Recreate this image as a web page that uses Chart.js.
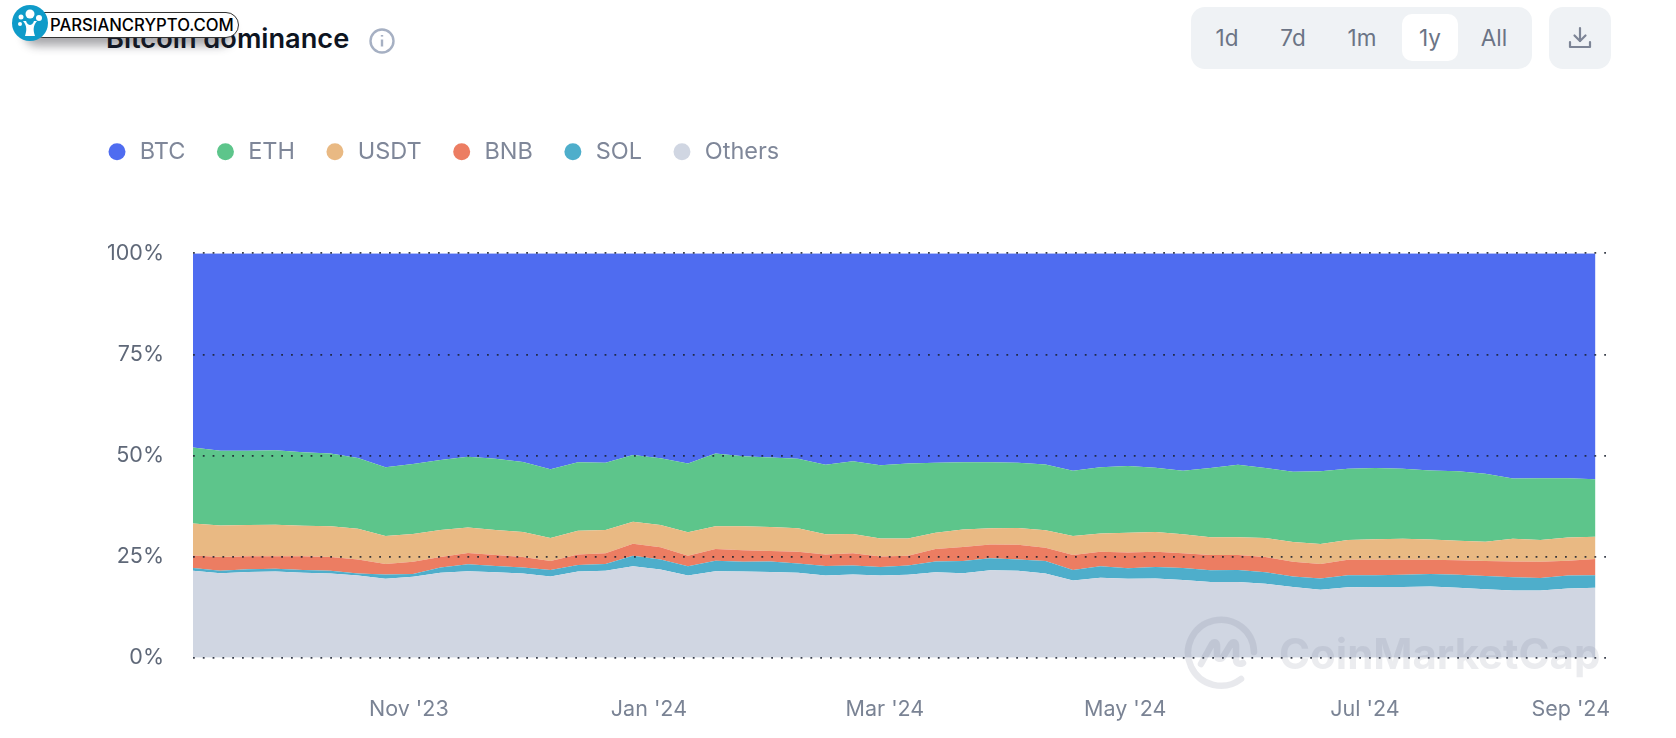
<!DOCTYPE html>
<html>
<head>
<meta charset="utf-8">
<title>Bitcoin dominance</title>
<script src="https://cdn.jsdelivr.net/npm/chart.js@4/dist/chart.umd.min.js"></script>
<style>
  html, body { margin: 0; padding: 0; background: #fff; }
  body { width: 1676px; height: 738px; position: relative; overflow: hidden; font-family: Inter, sans-serif; }
  #grafico { position: absolute; left: 77px; top: 111px; }
  .titulo { position: absolute; left: 106px; top: 22px; font-size: 27.2px; font-weight: 600; color: #0d1421; line-height: 33px; }
  .info { position: absolute; left: 368px; top: 27px; }
  .periodos { position: absolute; left: 1191px; top: 7px; width: 341px; height: 62px; background: #eff2f5; border-radius: 14px; }
  .periodos span { position: absolute; top: 7px; height: 47px; line-height: 47px; width: 56px; text-align: center; font-size: 22.5px; color: #6b7485; }
  .periodos .ativo { background: #fff; border-radius: 10px; }
  .baixar { position: absolute; left: 1549px; top: 7px; width: 62px; height: 62px; background: #eff2f5; border-radius: 14px; }
  .selo { position: absolute; left: 30px; top: 12px; width: 207px; height: 24px; background: #fff; border: 1px solid #333; border-radius: 13px; box-shadow: -6px 8px 10px rgba(40,40,50,.4); font-size: 16.7px; font-weight: 500; color: #000; line-height: 25px; white-space: nowrap; }
  .selo span { position: absolute; left: 19px; }
  .logo { position: absolute; left: 12px; top: 5px; }
  .marca { position: absolute; left: 1184px; top: 612px; pointer-events: none; }
  .marca-texto { position: absolute; left: 1279px; top: 626px; font-size: 42px; font-weight: 700; line-height: 56px; color: rgba(110,120,140,.14); white-space: nowrap; }
</style>
</head>
<body>
<canvas id="grafico" width="1599" height="627"></canvas>

<div class="titulo">Bitcoin dominance</div>
<svg class="info" width="28" height="28" viewBox="0 0 28 28" fill="none" stroke="#a6b0c3" stroke-width="2.4">
  <circle cx="14" cy="14" r="11.5"/><path d="M14 12.5v7"/><path d="M14 8v1.6"/>
</svg>

<div class="selo"><span>PARSIANCRYPTO.COM</span></div>
<svg class="logo" width="36" height="36" viewBox="0 0 36 36">
  <circle cx="18" cy="18" r="18" fill="#0f9bc9"/>
  <path d="M13 31c2-6 2-10-2-15h3c1 3 3 4 4 4s3-1 4-4h3c-4 5-4 9-2 15z" fill="#fff"/>
  <circle cx="18" cy="9" r="4.5" fill="#fff"/><circle cx="9" cy="12" r="2.5" fill="#fff"/>
  <circle cx="27" cy="13" r="3" fill="#fff"/><circle cx="8" cy="19" r="2" fill="#fff"/>
</svg>

<div class="periodos">
  <span style="left:8px">1d</span>
  <span style="left:74px">7d</span>
  <span style="left:143px">1m</span>
  <span class="ativo" style="left:211px">1y</span>
  <span style="left:275px">All</span>
</div>
<div class="baixar">
  <svg width="62" height="62" viewBox="0 0 62 62" fill="none" stroke="#7d8596" stroke-width="2.2" stroke-linecap="round" stroke-linejoin="round">
    <path d="M31 21v13"/><path d="M25.5 28.5l5.5 5.5 5.5-5.5"/><path d="M21 35v5h20v-5"/>
  </svg>
</div>

<svg class="marca" width="76" height="84" viewBox="0 0 76 84" fill="none" stroke="rgba(110,120,140,.16)" stroke-width="6.5" stroke-linecap="round" stroke-linejoin="round">
  <path d="M70 40a33 33 0 1 0-13 27"/>
  <path d="M17 52l11-20c2-3 5-2 5 2v10c0 3 4 4 6 1l8-13c2-3 5-2 5 2v14c0 3 3 5 7 3"/>
</svg>
<div class="marca-texto">CoinMarketCap</div>

<script>
const semanas = [0,1,2,3,4,5,6,7,8,9,10,11,12,13,14,15,16,17,18,19,20,21,22,23,24,25,26,27,28,29,30,31,32,33,34,35,36,37,38,39,40,41,42,43,44,45,46,47,48,49,50,51];

const others = [21.5,20.9,21.2,21.3,21.0,20.8,20.3,19.5,20.0,21.0,21.4,21.1,20.8,20.1,21.3,21.5,22.6,21.8,20.3,21.4,21.3,21.2,21.0,20.3,20.6,20.3,20.5,21.1,20.9,21.6,21.5,20.8,19.1,19.8,19.5,19.6,19.2,18.7,18.7,18.3,17.5,16.8,17.4,17.5,17.5,17.6,17.3,16.9,16.6,16.6,17.1,17.3];
const sol = [0.7,0.6,0.7,0.7,0.7,0.7,0.5,1.1,0.7,1.3,1.7,1.6,1.5,1.6,1.6,1.7,2.6,2.5,2.3,2.6,2.4,2.6,2.3,2.4,2.2,2.1,2.3,2.7,3.0,3.0,2.8,3.1,2.6,2.8,2.6,2.8,3.0,2.9,3.0,2.8,2.6,2.8,3.0,2.9,3.0,3.1,3.2,3.3,3.3,3.1,3.2,3.1];
const bnb = [3.1,3.4,3.2,3.1,3.4,3.4,3.5,2.6,3.0,2.6,2.8,2.7,2.6,2.2,2.6,2.6,3.0,3.0,2.6,2.9,2.9,2.6,2.9,2.8,3.0,2.6,2.4,3.1,3.5,3.4,3.6,3.3,3.7,3.6,3.9,3.8,3.6,3.8,3.7,3.8,3.6,3.6,3.8,3.8,3.7,3.5,3.6,3.7,3.9,4.0,3.7,4.0];
const usdt = [7.9,7.8,7.7,7.8,7.5,7.6,7.6,6.9,6.9,6.7,6.3,6.2,6.2,5.7,5.9,5.8,5.4,5.5,5.8,5.6,5.9,5.9,5.8,5.0,4.8,4.5,4.3,4.0,4.3,4.0,4.2,4.3,4.7,4.5,4.9,4.9,4.7,4.4,4.4,4.7,4.9,4.9,4.9,5.1,5.2,5.0,4.8,4.8,5.6,5.4,5.7,5.5];
const eth = [18.8,18.5,18.4,18.4,18.2,18.0,17.5,17.0,17.3,17.3,17.5,17.6,17.3,17.0,16.9,16.6,16.5,16.5,17.0,18.0,17.3,17.2,17.2,17.2,18.0,18.1,18.5,17.3,16.6,16.3,16.1,16.3,16.1,16.4,16.5,15.9,15.7,17.1,17.9,17.3,17.4,18.0,17.6,17.6,17.3,17.1,17.2,16.8,14.9,15.3,14.7,14.2];
const btc = [48.0,48.8,48.8,48.7,49.2,49.5,50.6,52.9,52.1,51.1,50.3,50.8,51.6,53.4,51.7,51.8,49.9,50.7,52.0,49.5,50.2,50.5,50.8,52.3,51.4,52.4,52.0,51.8,51.7,51.7,51.8,52.2,53.8,52.9,52.6,53.0,53.8,53.1,52.3,53.1,54.0,53.9,53.3,53.1,53.3,53.7,53.9,54.5,55.7,55.6,55.6,55.9];

const tickSemanas = [7.85,16.58,25.16,33.9,42.62,50.1];
const tickRotulos = ["Nov '23","Jan '24","Mar '24","May '24","Jul '24","Sep '24"];

function serie(nome, valores, cor, preenchimento) {
  return {
    label: nome,
    data: semanas.map((s, i) => ({ x: s, y: valores[i] })),
    backgroundColor: cor,
    borderWidth: 0,
    pointRadius: 0,
    fill: preenchimento,
    tension: 0
  };
}

// altura extra da legenda para empurrar a area do grafico para baixo
const legendaAltura = {
  id: "legendaAltura",
  beforeInit(chart) {
    const fit = chart.legend.fit;
    chart.legend.fit = function () {
      fit.call(this);
      this.height = 142.3;
    };
  }
};

new Chart(document.getElementById("grafico"), {
  type: "line",
  data: {
    datasets: [
      serie("Others", others, "#d0d6e2", "origin"),
      serie("SOL", sol, "#4eaecb", "-1"),
      serie("BNB", bnb, "#ec7d62", "-1"),
      serie("USDT", usdt, "#e9b983", "-1"),
      serie("ETH", eth, "#5dc58b", "-1"),
      serie("BTC", btc, "#4f6cf0", "-1")
    ]
  },
  plugins: [legendaAltura],
  options: {
    responsive: false,
    animation: false,
    layout: { padding: { right: 69 } },
    plugins: {
      tooltip: { enabled: false },
      legend: {
        position: "top",
        align: "start",
        reverse: true,
        labels: {
          usePointStyle: true,
          pointStyle: "circle",
          boxWidth: 22,
          boxHeight: 12,
          padding: 29,
          color: "#7f8799",
          font: { family: "Inter", size: 23.5 }
        }
      }
    },
    scales: {
      x: {
        type: "linear",
        min: 0,
        max: 51.42,
        grid: { display: false },
        border: { display: false },
        afterBuildTicks: s => { s.ticks = tickSemanas.map(v => ({ value: v })); },
        afterFit: s => { s.height = 80.3; },
        ticks: {
          autoSkip: false,
          maxRotation: 0,
          padding: 31,
          color: "#7a8394",
          font: { family: "Inter", size: 21.5 },
          callback: (v, i) => tickRotulos[i]
        }
      },
      y: {
        stacked: true,
        min: 0,
        max: 100,
        border: { display: false, dash: [1.8, 8] },
        afterFit: s => { s.width = 116; },
        grid: {
          z: 1,
          drawTicks: false,
          color: "rgba(25,30,45,.85)",
          lineWidth: 1.8
        },
        ticks: {
          stepSize: 25,
          padding: 29,
          color: "#5f6878",
          font: { family: "Inter", size: 21.5 },
          callback: v => v + "%"
        }
      }
    }
  }
});
</script>
</body>
</html>
